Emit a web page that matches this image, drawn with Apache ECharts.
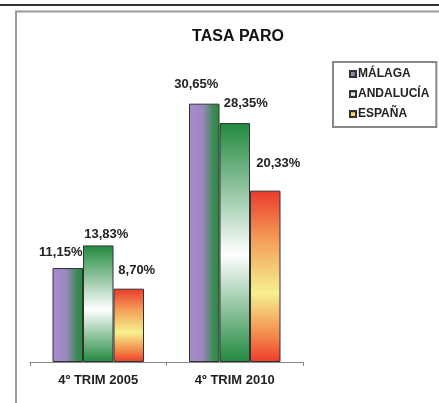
<!DOCTYPE html>
<html>
<head>
<meta charset="utf-8">
<script src="https://cdn.jsdelivr.net/npm/echarts@6/dist/echarts.min.js"></script>
<style>
  html, body { margin: 0; padding: 0; background: #fff; }
  #chart { width: 439px; height: 403px; }
</style>
</head>
<body>
<div id="chart"></div>
<script>
// datos
var categorias = ['4º TRIM 2005', '4º TRIM 2010'];
var series = ['MÁLAGA', 'ANDALUCÍA', 'ESPAÑA'];
var malaga = [11.15, 30.65];
var andalucia = [13.83, 28.35];
var espana = [8.70, 20.33];

// desplazamiento de las etiquetas (como en el excel original)
var offsetMalaga = [[-7, -4], [-8, -8]];
var offsetAndalucia = [[8, 0], [11, -8]];
var offsetEspana = [[8, -7], [13, -16]];

var fuente = 'Liberation Sans, Arial, sans-serif';

function conOffset(valores, offsets) {
  return valores.map(function (v, i) {
    return { value: v, label: { offset: offsets[i] } };
  });
}

var etiqueta = {
  show: true,
  position: 'top',
  distance: 5,
  color: '#222',
  fontFamily: fuente,
  fontWeight: 'bold',
  fontSize: 13,
  formatter: function (p) {
    return p.value.toFixed(2).replace('.', ',') + '%';
  }
};

var G = echarts.graphic.LinearGradient;

var option = {
  animation: false,
  backgroundColor: '#fff',
  title: {
    text: 'TASA PARO',
    left: 233,
    top: 24,
    textAlign: 'center',
    textStyle: { fontFamily: fuente, fontWeight: 'bold', fontSize: 16, color: '#111' }
  },
  legend: {
    data: series,
    orient: 'vertical',
    left: 333,
    top: 62,
    padding: [6, 7, 7, 16],
    itemGap: 8,
    itemWidth: 6,
    itemHeight: 6,
    icon: 'rect',
    borderColor: '#888',
    borderWidth: 2,
    textStyle: { fontFamily: fuente, fontWeight: 'bold', fontSize: 12, color: '#222', padding: [0, 0, 0, -3] }
  },
  grid: { left: 30, width: 273, top: 67, bottom: 41 },
  xAxis: {
    type: 'category',
    data: categorias,
    axisLine: { lineStyle: { color: '#888', width: 1 } },
    axisTick: { show: true, length: 4, lineStyle: { color: '#888' } },
    axisLabel: { margin: 12, fontFamily: fuente, fontWeight: 'bold', fontSize: 13, color: '#222' }
  },
  yAxis: {
    type: 'value',
    min: 0,
    max: 35,
    show: false,
    splitLine: { show: false }
  },
  graphic: [
    { type: 'line', shape: { x1: 0, y1: 5, x2: 439, y2: 5 }, style: { stroke: '#333', lineWidth: 2 } },
    { type: 'polyline', shape: { points: [[16, 403], [16, 11.5], [439, 11.5]] }, style: { stroke: '#999', lineWidth: 2, fill: null } }
  ],
  series: [
    {
      name: series[0],
      type: 'bar',
      barWidth: 30.5,
      barGap: '0%',
      data: conOffset(malaga, offsetMalaga),
      label: etiqueta,
      itemStyle: {
        borderColor: '#333',
        borderWidth: 1,
        color: new G(0, 0, 1, 0, [
          { offset: 0, color: '#a88ccb' },
          { offset: 0.45, color: '#9c87c0' },
          { offset: 0.8, color: '#3d8a55' },
          { offset: 1, color: '#268940' }
        ])
      }
    },
    {
      name: series[1],
      type: 'bar',
      barWidth: 30.5,
      barGap: '0%',
      data: conOffset(andalucia, offsetAndalucia),
      label: etiqueta,
      itemStyle: {
        borderColor: '#333',
        borderWidth: 1,
        color: new G(0, 0, 0, 1, [
          { offset: 0, color: '#22893f' },
          { offset: 0.55, color: '#ffffff' },
          { offset: 1, color: '#22893f' }
        ])
      }
    },
    {
      name: series[2],
      type: 'bar',
      barWidth: 30.5,
      barGap: '0%',
      data: conOffset(espana, offsetEspana),
      label: etiqueta,
      itemStyle: {
        borderColor: '#333',
        borderWidth: 1,
        color: new G(0, 0, 0, 1, [
          { offset: 0, color: '#ea3a2c' },
          { offset: 0.3, color: '#f4a25a' },
          { offset: 0.6, color: '#f6f08e' },
          { offset: 0.85, color: '#f3864a' },
          { offset: 1, color: '#ec3b2b' }
        ])
      }
    }
  ]
};

var chart = echarts.init(document.getElementById('chart'));
chart.setOption(option);
</script>
</body>
</html>
